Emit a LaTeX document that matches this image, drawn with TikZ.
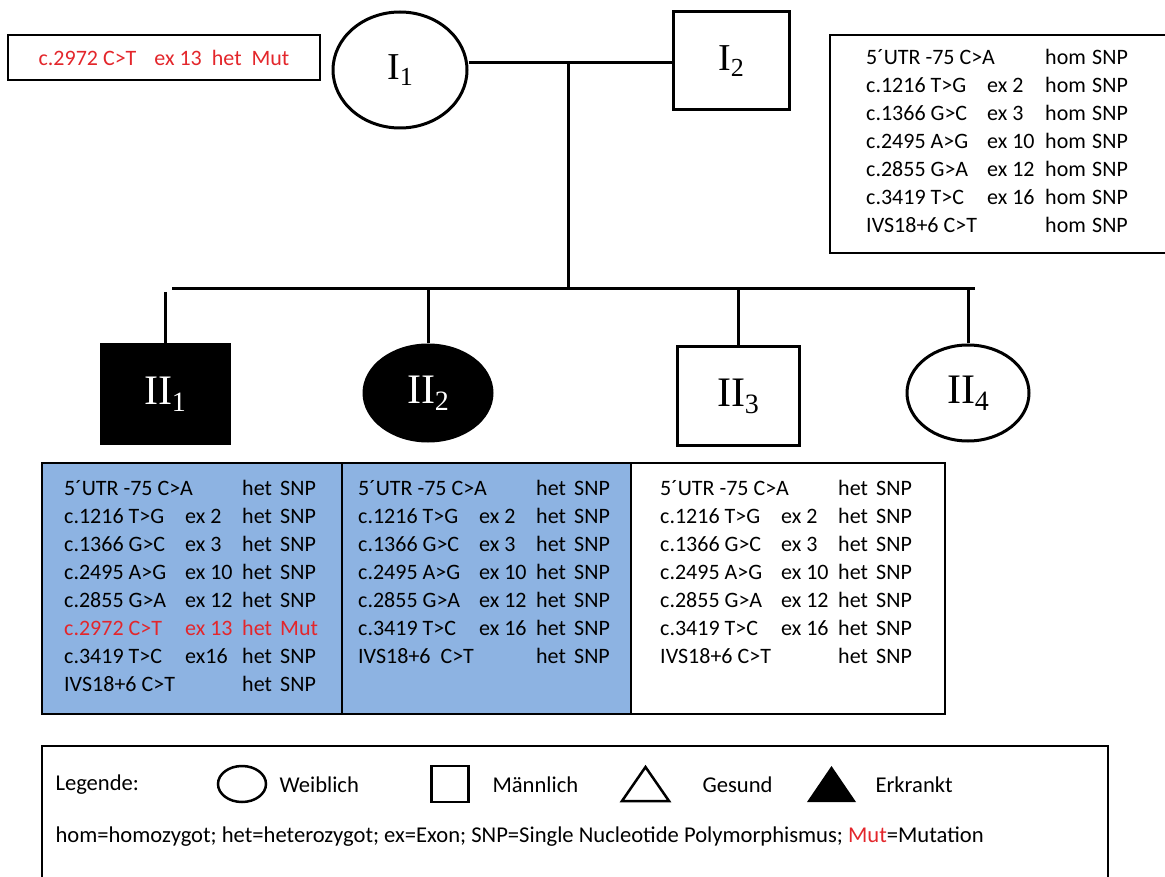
\documentclass[tikz,border=0pt]{standalone}
\usepackage{fontspec}
\setmainfont{Carlito}
\newfontfamily\pedfont{Liberation Serif}
\usepackage{tikz}
\usetikzlibrary{positioning,shapes.geometric}
\definecolor{rot}{HTML}{E3262B}
\definecolor{hellblau}{HTML}{8DB3E2}
\newcommand{\pedlabel}[2]{{\pedfont\fontsize{38}{40}\selectfont #1\raisebox{-6pt}{\fontsize{26}{28}\selectfont #2}}}
\newcommand{\kindlabel}[2]{{\pedfont\fontsize{42}{44}\selectfont #1\raisebox{-7pt}{\fontsize{28}{30}\selectfont #2}}}
\newcommand{\mutc}[1]{\textcolor{rot}{#1}}

\begin{document}
\begin{tikzpicture}[x=1pt, y=-1pt, font=\fontsize{22}{28}\selectfont,
  frau/.style={draw, ellipse, line width=3pt, inner sep=0pt},
  mann/.style={draw, rectangle, line width=3pt, inner sep=0pt},
  linie/.style={line width=3pt},
  kasten/.style={draw, rectangle, line width=1.5pt, inner sep=0pt},
  tabelle/.style={anchor=north west, inner sep=0pt, align=left}]
  \useasboundingbox (0,0) rectangle (1165,877);
  \clip (0,0) rectangle (1165,877);
  \node[kasten, minimum width=312pt, minimum height=45pt, text=rot] (mutbox) at (164,57.5)
    {c.2972 C>T\hspace{18pt}ex 13\hspace{10pt}het\hspace{10pt}Mut};
  \node[frau, minimum width=134pt, minimum height=116pt] (I1) at (400,70) {\pedlabel{I}{1}};
  \node[mann, minimum width=116pt, minimum height=98pt] (I2) at (731,61) {\pedlabel{I}{2}};
  \node[kasten, minimum width=336pt, minimum height=218pt] (vater) at (998,144) {};
  \node[tabelle] (vatertab) at (866,45) {%
    \begin{tabular}{@{}p{121pt}@{}p{58pt}@{}p{47pt}@{}l@{}}
    \multicolumn{2}{@{}p{179pt}@{}}{5´UTR -75 C>A} & hom & SNP\\
    c.1216 T>G & ex 2 & hom & SNP\\
    c.1366 G>C & ex 3 & hom & SNP\\
    c.2495 A>G & ex 10 & hom & SNP\\
    c.2855 G>A & ex 12 & hom & SNP\\
    c.3419 T>C & ex 16 & hom & SNP\\
    \multicolumn{2}{@{}p{179pt}@{}}{IVS18+6 C>T} & hom & SNP
    \end{tabular}};

  \coordinate (ehe) at (568,63);
  \coordinate (sib) at (568,289);
  \coordinate (sibl) at (172,289);
  \coordinate (sibr) at (975,289);
  \coordinate (d1) at (165,292);
  \draw[linie] (I1.east |- ehe) -- (I2.west |- ehe);
  \draw[linie] (ehe) -- (sib);
  \draw[linie] (sibl) -- (sibr);

  \node[mann, fill=black, text=white, minimum width=128pt, minimum height=98pt] (II1) at (165,394) {\kindlabel{II}{1}};
  \node[frau, fill=black, text=white, minimum width=128pt, minimum height=96pt] (II2) at (428,393) {\kindlabel{II}{2}};
  \node[mann, minimum width=122pt, minimum height=98pt] (II3) at (738,396) {\kindlabel{II}{3}};
  \node[frau, minimum width=122pt, minimum height=96pt] (II4) at (968,393) {\kindlabel{II}{4}};
  \draw[linie] (d1) -- (II1.north);
  \draw[linie] (II2.north |- sib) -- (II2.north);
  \draw[linie] (II3.north |- sib) -- (II3.north);
  \draw[linie] (II4.north |- sib) -- (II4.north);

  \node[kasten, fill=hellblau, minimum width=300pt, minimum height=251pt] (k1) at (192,588.5) {};
  \node[kasten, fill=hellblau, minimum width=289pt, minimum height=251pt] (k2) at (486.5,588.5) {};
  \node[kasten, minimum width=314pt, minimum height=251pt] (k3) at (788,588.5) {};
  \node[tabelle] (t1) at (64,476) {%
    \begin{tabular}{@{}p{121pt}@{}p{57pt}@{}p{38pt}@{}l@{}}
    \multicolumn{2}{@{}p{178pt}@{}}{5´UTR -75 C>A} & het & SNP\\
    c.1216 T>G & ex 2 & het & SNP\\
    c.1366 G>C & ex 3 & het & SNP\\
    c.2495 A>G & ex 10 & het & SNP\\
    c.2855 G>A & ex 12 & het & SNP\\
    \mutc{c.2972 C>T} & \mutc{ex 13} & \mutc{het} & \mutc{Mut}\\
    c.3419 T>C & ex16 & het & SNP\\
    \multicolumn{2}{@{}p{178pt}@{}}{IVS18+6 C>T} & het & SNP
    \end{tabular}};
  \node[tabelle] (t2) at (358,476) {%
    \begin{tabular}{@{}p{121pt}@{}p{57pt}@{}p{38pt}@{}l@{}}
    \multicolumn{2}{@{}p{178pt}@{}}{5´UTR -75 C>A} & het & SNP\\
    c.1216 T>G & ex 2 & het & SNP\\
    c.1366 G>C & ex 3 & het & SNP\\
    c.2495 A>G & ex 10 & het & SNP\\
    c.2855 G>A & ex 12 & het & SNP\\
    c.3419 T>C & ex 16 & het & SNP\\
    \multicolumn{2}{@{}p{178pt}@{}}{IVS18+6\ \ C>T} & het & SNP
    \end{tabular}};
  \node[tabelle] (t3) at (660,476) {%
    \begin{tabular}{@{}p{121pt}@{}p{57pt}@{}p{38pt}@{}l@{}}
    \multicolumn{2}{@{}p{178pt}@{}}{5´UTR -75 C>A} & het & SNP\\
    c.1216 T>G & ex 2 & het & SNP\\
    c.1366 G>C & ex 3 & het & SNP\\
    c.2495 A>G & ex 10 & het & SNP\\
    c.2855 G>A & ex 12 & het & SNP\\
    c.3419 T>C & ex 16 & het & SNP\\
    \multicolumn{2}{@{}p{178pt}@{}}{IVS18+6 C>T} & het & SNP
    \end{tabular}};

  \node[kasten, minimum width=1066pt, minimum height=140pt] (legende) at (575,816) {};
  \begin{scope}[font=\fontsize{22.6}{28}\selectfont]
  \node[anchor=west] (leg) at (52,785) {Legende:};
  \node[frau, line width=2.5pt, minimum width=48pt, minimum height=36pt] (symw) at (242,784) {};
  \node[anchor=west] (txtw) at (276,785) {Weiblich};
  \node[mann, line width=2.5pt, minimum width=37pt, minimum height=36pt] (symm) at (450,784) {};
  \node[anchor=west] (txtm) at (489,785) {Männlich};
  \draw[line width=2.5pt, line join=miter] (622,801) -- (645.5,767) -- (669,801) -- cycle;
  \node[anchor=west] (txtg) at (699,785) {Gesund};
  \fill (807,802) -- (831.5,766) -- (856,802) -- cycle;
  \node[anchor=west] (txte) at (872,785) {Erkrankt};
  \node[anchor=west] (abk) at (52,837)
    {hom=homozygot; het=heterozygot; ex=Exon; SNP=Single Nucleotide Polymorphismus; \mutc{Mut}=Mutation};
  \end{scope}
\end{tikzpicture}
\end{document}
